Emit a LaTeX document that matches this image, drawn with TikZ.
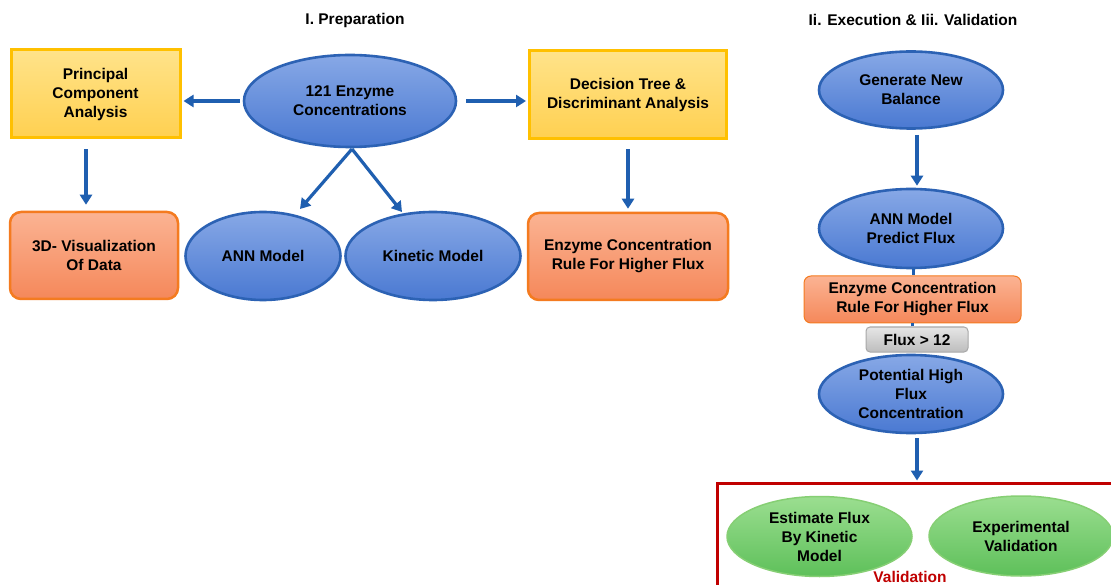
\documentclass[tikz,border=0pt]{standalone}
\usepackage{fontspec}
\setmainfont{Liberation Sans}
\usetikzlibrary{shapes.geometric,arrows.meta}
\definecolor{arrowblue}{HTML}{1F5FB0}
\definecolor{yelborder}{HTML}{FFC000}
\definecolor{yeltop}{HTML}{FFE38A}
\definecolor{yelbot}{HTML}{FFD050}
\definecolor{orborder}{HTML}{F47B20}
\definecolor{ortop}{HTML}{FBB393}
\definecolor{orbot}{HTML}{F5885A}
\definecolor{bluetop}{HTML}{87A8E6}
\definecolor{bluebot}{HTML}{4A79D2}
\definecolor{blueborder}{HTML}{2C62B4}
\definecolor{greentop}{HTML}{9BDE90}
\definecolor{greenbot}{HTML}{5EC05A}
\definecolor{greenborder}{HTML}{86CF74}
\definecolor{graytop}{HTML}{E6E6E6}
\definecolor{graybot}{HTML}{BDBDBD}
\definecolor{grayborder}{HTML}{A8A8A8}
\definecolor{valred}{HTML}{C00000}
\tikzset{
  txt/.style={font=\fontsize{15.5}{19}\selectfont\bfseries, align=center, text=black},
  yelbox/.style={txt, rectangle, draw=yelborder, line width=3pt, top color=yeltop, bottom color=yelbot, inner sep=0pt},
  orbox/.style={txt, rectangle, rounded corners=11pt, draw=orborder, line width=2.5pt, top color=ortop, bottom color=orbot, inner sep=0pt},
  blueell/.style={txt, ellipse, draw=blueborder, line width=2.6pt, top color=bluetop, bottom color=bluebot, inner sep=0pt},
  greenell/.style={txt, ellipse, draw=greenborder, line width=1.5pt, top color=greentop, bottom color=greenbot, inner sep=0pt},
  graybox/.style={txt, rectangle, rounded corners=4pt, draw=grayborder, line width=1pt, top color=graytop, bottom color=graybot, inner sep=0pt},
  title/.style={font=\fontsize{15.5}{19}\selectfont\bfseries},
  arr/.style={draw=arrowblue, line width=3.2pt, -{Triangle[length=10pt,width=12pt]}},
  link/.style={draw=arrowblue, line width=3pt},
}
\begin{document}
\begin{tikzpicture}[x=1pt,y=-1pt]
\useasboundingbox (0,0) rectangle (1111,585);
\clip (0,0) rectangle (1111,585);
\fill[white] (0,0) rectangle (1111,585);

% titles
\node[title] (t1) at (355,20) {I. Preparation};
\node[title] (t2) at (913,20) {Ii. Execution \& Iii. Validation};

% preparation
\node[yelbox, minimum width=169pt, minimum height=88pt] (pca) at (95.5,94) {Principal\\Component\\Analysis};
\node[blueell, minimum width=212pt, minimum height=92pt] (enz) at (350,101) {121 Enzyme\\Concentrations};
\node[yelbox, minimum width=197pt, minimum height=88pt] (dt) at (628,95) {Decision Tree \&\\Discriminant Analysis};
\node[orbox, minimum width=168pt, minimum height=87pt] (vis) at (94,255.5) {3D- Visualization\\Of Data};
\node[blueell, minimum width=155pt, minimum height=88pt] (ann) at (263,256) {ANN Model};
\node[blueell, minimum width=175pt, minimum height=88pt] (kin) at (433,256) {Kinetic Model};
\node[orbox, minimum width=200pt, minimum height=87pt] (rule) at (628,256.5) {Enzyme Concentration\\Rule For Higher Flux};

\coordinate (apex) at (352,149);
\coordinate (annin) at (300,209);
\coordinate (kinin) at (402,212);

\draw[arr, shorten <=3pt, shorten >=2pt] (enz.west) -- (enz.west -| pca.east);
\draw[arr, shorten <=9pt, shorten >=2pt] (enz.east) -- (enz.east -| dt.west);
\draw[arr, shorten <=10pt, shorten >=6pt] ([xshift=-9.5pt]pca.south) -- ([xshift=-8pt]vis.north);
\draw[arr, shorten <=9pt, shorten >=3pt] (dt.south) -- (rule.north);
\draw[arr] (apex) -- (annin);
\draw[arr] (apex) -- (kinin);

% execution
\node[blueell, minimum width=184pt, minimum height=77pt] (gen) at (911,90) {Generate New\\Balance};
\node[blueell, minimum width=184pt, minimum height=79pt] (pred) at (911,228.5) {ANN Model\\Predict Flux};
\draw[arr, shorten <=5pt, shorten >=2pt] ([xshift=6pt]gen.south) -- ([xshift=6pt]pred.north);

\node[orbox, rounded corners=7pt, line width=1pt, minimum width=217pt, minimum height=47pt] (rule2) at (912.5,299.5) {Enzyme Concentration\\Rule For Higher Flux};
\node[graybox, minimum width=102pt, minimum height=25pt] (flux) at (917,339.5) {Flux \textgreater{} 12};
\node[blueell, minimum width=184pt, minimum height=78pt] (pot) at (911,394) {Potential High\\Flux\\Concentration};

\draw[link] ([xshift=2pt]pred.south) -- ([xshift=2pt]pred.south |- rule2.north);
\draw[link] (flux.north -| rule2.south) -- (rule2.south);

% validation
\node[draw=valred, line width=3pt, rectangle, minimum width=410pt, minimum height=120pt, inner sep=0pt] (val) at (922,543) {};
\draw[arr, shorten <=4pt, shorten >=1pt] ([xshift=6pt]pot.south) -- ([xshift=6pt]pot.south |- val.north);
\node[greenell, minimum width=185pt, minimum height=80pt] (est) at (819.5,536.5) {Estimate Flux\\By Kinetic\\Model};
\node[greenell, minimum width=184pt, minimum height=80pt] (exp) at (1021,536) {Experimental\\Validation};
\node[title, text=valred] (vlab) at (910,577) {Validation};
\end{tikzpicture}
\end{document}
